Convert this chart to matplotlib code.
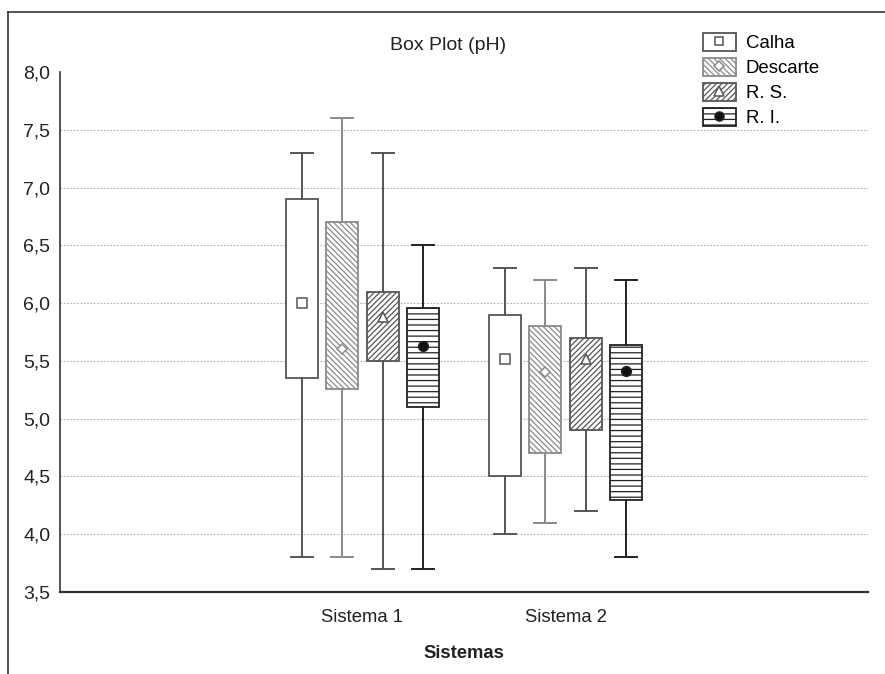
import matplotlib
matplotlib.use("Agg")
import matplotlib.pyplot as plt
from matplotlib.patches import Patch
from matplotlib.lines import Line2D
from matplotlib.legend_handler import HandlerTuple
from matplotlib.ticker import FixedLocator, FuncFormatter

plt.rcParams['font.family'] = ['Liberation Sans', 'DejaVu Sans']
plt.rcParams['hatch.linewidth'] = 0.9

# ---- data ----
groups = ['Sistema 1', 'Sistema 2']
series = ['Calha', 'Descarte', 'R. S.', 'R. I.']
whisker_low = [[3.8, 4.0], [3.8, 4.1], [3.7, 4.2], [3.7, 3.8]]
box_low = [[5.35, 4.5], [5.26, 4.7], [5.5, 4.9], [5.1, 4.3]]
box_high = [[6.9, 5.9], [6.7, 5.8], [6.1, 5.7], [5.96, 5.64]]
whisker_high = [[7.3, 6.3], [7.6, 6.2], [7.3, 6.3], [6.5, 6.2]]
center_mark = [[6.0, 5.52], [5.6, 5.4], [5.88, 5.52], [5.63, 5.41]]
y_ticks = [3.5, 4.0, 4.5, 5.0, 5.5, 6.0, 6.5, 7.0, 7.5, 8.0]

# ---- styles ----
edge_colors = ['#555555', '#8a8a8a', '#555555', '#222222']
hatches = [None, '\\' * 6, '/' * 6, '---']
markers = ['s', 'D', '^', 'o']
marker_face = ['white', 'white', 'white', '#111111']
marker_size = [6.5, 5.5, 7, 7]

fig = plt.figure(figsize=(8.85, 6.74), dpi=100)
ax = fig.add_axes([60 / 885, 1 - 592 / 674, 808 / 885, 520 / 674])

offsets = [-1.5, -0.5, 0.5, 1.5]
step = 0.199
box_w = 0.158
cap_w = 0.108

for i, name in enumerate(series):
    stats = []
    positions = []
    for g in range(len(groups)):
        stats.append(dict(
            whislo=whisker_low[i][g], q1=box_low[i][g], med=center_mark[i][g],
            q3=box_high[i][g], whishi=whisker_high[i][g], mean=center_mark[i][g],
            fliers=[], label=groups[g]))
        positions.append(g + 1 + offsets[i] * step)
    c = edge_colors[i]
    res = ax.bxp(stats, positions=positions, widths=box_w, capwidths=cap_w,
                 patch_artist=True, showmeans=True, meanline=False,
                 showfliers=False, manage_ticks=False,
                 boxprops=dict(facecolor='white', edgecolor=c, linewidth=1.3),
                 whiskerprops=dict(color=c, linewidth=1.4),
                 capprops=dict(color=c, linewidth=1.4),
                 medianprops=dict(linestyle='none'),
                 meanprops=dict(marker=markers[i], markerfacecolor=marker_face[i],
                                markeredgecolor=c, markersize=marker_size[i],
                                markeredgewidth=1.1, linestyle='none'))
    for b in res['boxes']:
        if hatches[i]:
            b.set_hatch(hatches[i])

ax.set_xlim(-0.49, 3.49)
ax.set_ylim(3.5, 8.0)
ax.yaxis.set_major_locator(FixedLocator(y_ticks))
ax.yaxis.set_major_formatter(FuncFormatter(lambda v, p: f"{v:.1f}".replace('.', ',')))
ax.set_xticks([1, 2])
ax.set_xticklabels(groups)
ax.tick_params(axis='both', length=0, labelsize=13.3, colors='#222222')
ax.tick_params(axis='y', labelsize=14, pad=7)
ax.tick_params(axis='x', pad=12)

ax.yaxis.grid(True, linestyle=(0, (1.5, 1.5)), color='#b0b0b0', linewidth=0.8)
ax.set_axisbelow(True)
gl = ax.get_ygridlines()
gl[0].set_visible(False)
gl[-1].set_visible(False)

for s in ['top', 'right']:
    ax.spines[s].set_visible(False)
ax.spines['left'].set_color('#333333')
ax.spines['left'].set_linewidth(1.2)
ax.spines['bottom'].set_color('#333333')
ax.spines['bottom'].set_linewidth(1.6)

ax.set_xlabel('Sistemas', fontsize=13.3, fontweight='bold', labelpad=14, color='#222222')
fig.text(448 / 885, 1 - 45 / 674, 'Box Plot (pH)', ha='center', va='center',
         fontsize=14, color='#222222')

# legend
handles = []
for i in range(len(series)):
    p = Patch(facecolor='white', edgecolor=edge_colors[i], hatch=hatches[i], linewidth=1.3)
    m = Line2D([], [], marker=markers[i], linestyle='none', markerfacecolor=marker_face[i],
               markeredgecolor=edge_colors[i], markersize=marker_size[i] - 0.5,
               markeredgewidth=1.1)
    handles.append((p, m))
fig.legend(handles, series, handler_map={tuple: HandlerTuple(ndivide=1, pad=0)},
           loc='upper left', bbox_to_anchor=(703 / 885, 1 - 33 / 674),
           frameon=False, fontsize=13.4, handlelength=1.75, handleheight=1.12,
           labelspacing=0.3, handletextpad=0.55, borderpad=0, borderaxespad=0)

# outer frame (top and left edges)
fig.add_artist(Line2D([8 / 885, 1.0], [1 - 12 / 674, 1 - 12 / 674],
                      transform=fig.transFigure, color='#333333', linewidth=1.2))
fig.add_artist(Line2D([8 / 885, 8 / 885], [0, 1 - 12 / 674],
                      transform=fig.transFigure, color='#333333', linewidth=1.2))

fig.savefig('out.png', dpi=100, facecolor='white')
